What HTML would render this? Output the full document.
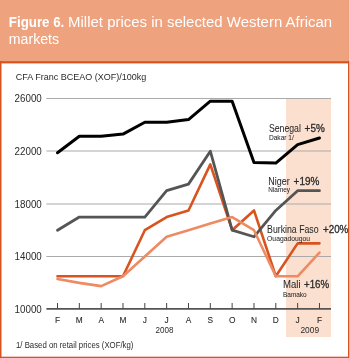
<!DOCTYPE html>
<html><head><meta charset="utf-8"><style>
html,body{margin:0;padding:0;background:#fff;}
body{width:350px;height:358px;overflow:hidden;position:relative;}
svg{position:absolute;left:0;top:0;display:block;will-change:transform;}
text{font-family:"Liberation Sans",sans-serif;fill:#2a2a2a;}
g.lab text{stroke:#2a2a2a;stroke-width:0.05px;}
text.w{fill:#fff;stroke:none;}
</style></head><body>
<svg width="350" height="358" viewBox="0 0 350 358">
<rect x="0" y="0" width="350" height="358" fill="#fff"/>
<rect x="0" y="0" width="350" height="61" fill="#EFA27E"/>
<text x="8.8" y="27.1" font-size="14" font-weight="bold" class="w" textLength="55.5" lengthAdjust="spacingAndGlyphs">Figure 6.</text>
<text x="68.1" y="27.1" font-size="14" class="w" textLength="264" lengthAdjust="spacingAndGlyphs">Millet prices in selected Western African</text>
<text x="8.8" y="44.1" font-size="14" class="w" textLength="50.3" lengthAdjust="spacingAndGlyphs">markets</text>

<rect x="286" y="98" width="45" height="239" fill="#FBE0D0"/>
<text x="15.7" y="79.8" font-size="9.3" textLength="130.6" lengthAdjust="spacingAndGlyphs">CFA Franc BCEAO (XOF)/100kg</text>

<g stroke="#AAAAAA" stroke-width="1">
<line x1="46.4" y1="98.5" x2="331" y2="98.5"/>
<line x1="46.4" y1="151" x2="331" y2="151"/>
<line x1="46.4" y1="204" x2="331" y2="204"/>
<line x1="46.4" y1="256.5" x2="331" y2="256.5"/>
</g>
<g font-size="10" text-anchor="start">
<text x="14.6" y="102" textLength="27.2" lengthAdjust="spacingAndGlyphs">26000</text>
<text x="14.6" y="154.7" textLength="27.2" lengthAdjust="spacingAndGlyphs">22000</text>
<text x="14.6" y="207.9" textLength="27.2" lengthAdjust="spacingAndGlyphs">18000</text>
<text x="14.6" y="260.2" textLength="27.2" lengthAdjust="spacingAndGlyphs">14000</text>
<text x="14.6" y="312.6" textLength="27.2" lengthAdjust="spacingAndGlyphs">10000</text>
</g>
<g fill="none" stroke-linejoin="round" stroke-linecap="round">
<polyline points="57.50,276.28 79.33,276.28 101.16,276.28 122.99,276.28 144.82,230.20 166.65,217.03 188.48,210.45 210.31,164.36 232.14,230.20 253.97,210.45 275.80,276.28 297.63,243.37 319.46,243.37" stroke="#D9531E" stroke-width="2.6"/>
<polyline points="57.50,230.20 79.33,217.03 101.16,217.03 122.99,217.03 144.82,217.03 166.65,190.70 188.48,184.11 210.31,151.20 232.14,230.20 253.97,236.78 275.80,210.45 297.63,190.70 319.46,190.70" stroke="#555555" stroke-width="2.8"/>
<polyline points="57.50,278.92 79.33,282.87 101.16,286.16 122.99,276.28 144.82,256.53 166.65,236.78 188.48,230.20 210.31,223.61 232.14,217.03 253.97,230.20 275.80,276.28 297.63,276.28 319.46,252.58" stroke="#EE8B62" stroke-width="2.6"/>
<polyline points="57.50,152.78 79.33,136.32 101.16,136.32 122.99,134.08 144.82,122.23 166.65,122.23 188.48,119.60 210.31,101.16 232.14,101.16 253.97,162.39 275.80,163.05 297.63,144.61 319.46,138.03" stroke="#000" stroke-width="3"/>
</g>
<line x1="46.4" y1="308.8" x2="331" y2="308.8" stroke="#555" stroke-width="1.8"/>
<line x1="57.50" y1="303" x2="57.50" y2="309" stroke="#444" stroke-width="1"/><line x1="79.33" y1="303" x2="79.33" y2="309" stroke="#444" stroke-width="1"/><line x1="101.16" y1="303" x2="101.16" y2="309" stroke="#444" stroke-width="1"/><line x1="122.99" y1="303" x2="122.99" y2="309" stroke="#444" stroke-width="1"/><line x1="144.82" y1="303" x2="144.82" y2="309" stroke="#444" stroke-width="1"/><line x1="166.65" y1="303" x2="166.65" y2="309" stroke="#444" stroke-width="1"/><line x1="188.48" y1="303" x2="188.48" y2="309" stroke="#444" stroke-width="1"/><line x1="210.31" y1="303" x2="210.31" y2="309" stroke="#444" stroke-width="1"/><line x1="232.14" y1="303" x2="232.14" y2="309" stroke="#444" stroke-width="1"/><line x1="253.97" y1="303" x2="253.97" y2="309" stroke="#444" stroke-width="1"/><line x1="275.80" y1="303" x2="275.80" y2="309" stroke="#444" stroke-width="1"/><line x1="297.63" y1="303" x2="297.63" y2="309" stroke="#444" stroke-width="1"/><line x1="319.46" y1="303" x2="319.46" y2="309" stroke="#444" stroke-width="1"/>
<g style="stroke:#2a2a2a;stroke-width:0.1px"><text x="57.50" y="322.5" font-size="9.8" text-anchor="middle" textLength="5.09" lengthAdjust="spacingAndGlyphs">F</text>
<text x="79.33" y="322.5" font-size="9.8" text-anchor="middle" textLength="6.94" lengthAdjust="spacingAndGlyphs">M</text>
<text x="101.16" y="322.5" font-size="9.8" text-anchor="middle" textLength="5.56" lengthAdjust="spacingAndGlyphs">A</text>
<text x="122.99" y="322.5" font-size="9.8" text-anchor="middle" textLength="6.94" lengthAdjust="spacingAndGlyphs">M</text>
<text x="144.82" y="322.5" font-size="9.8" text-anchor="middle" textLength="4.17" lengthAdjust="spacingAndGlyphs">J</text>
<text x="166.65" y="322.5" font-size="9.8" text-anchor="middle" textLength="4.17" lengthAdjust="spacingAndGlyphs">J</text>
<text x="188.48" y="322.5" font-size="9.8" text-anchor="middle" textLength="5.56" lengthAdjust="spacingAndGlyphs">A</text>
<text x="210.31" y="322.5" font-size="9.8" text-anchor="middle" textLength="5.56" lengthAdjust="spacingAndGlyphs">S</text>
<text x="232.14" y="322.5" font-size="9.8" text-anchor="middle" textLength="6.48" lengthAdjust="spacingAndGlyphs">O</text>
<text x="253.97" y="322.5" font-size="9.8" text-anchor="middle" textLength="6.01" lengthAdjust="spacingAndGlyphs">N</text>
<text x="275.80" y="322.5" font-size="9.8" text-anchor="middle" textLength="6.01" lengthAdjust="spacingAndGlyphs">D</text>
<text x="297.63" y="322.5" font-size="9.8" text-anchor="middle" textLength="4.17" lengthAdjust="spacingAndGlyphs">J</text>
<text x="319.46" y="322.5" font-size="9.8" text-anchor="middle" textLength="5.09" lengthAdjust="spacingAndGlyphs">F</text>
</g>
<text x="164.6" y="332.9" font-size="9.6" text-anchor="middle" textLength="18" lengthAdjust="spacingAndGlyphs">2008</text>
<text x="309.8" y="332.9" font-size="9.6" text-anchor="middle" textLength="18.7" lengthAdjust="spacingAndGlyphs">2009</text>

<g class="lab"><text x="268.9" y="131.7" font-size="10.4" textLength="32.0" lengthAdjust="spacingAndGlyphs">Senegal</text>
<text x="304.6" y="131.7" font-size="10.4" style="stroke:#2a2a2a;stroke-width:0.3px" textLength="20.1" lengthAdjust="spacingAndGlyphs">+5%</text>
<text x="268.9" y="140.0" font-size="6.6" textLength="25.0" lengthAdjust="spacingAndGlyphs">Dakar 1/</text>
<text x="268.3" y="184.7" font-size="10.4" textLength="21.4" lengthAdjust="spacingAndGlyphs">Niger</text>
<text x="293.6" y="184.7" font-size="10.4" style="stroke:#2a2a2a;stroke-width:0.3px" textLength="25.8" lengthAdjust="spacingAndGlyphs">+19%</text>
<text x="268.3" y="192.3" font-size="6.6" textLength="21.7" lengthAdjust="spacingAndGlyphs">Niamey</text>
<text x="267.1" y="233.1" font-size="10.4" textLength="51.5" lengthAdjust="spacingAndGlyphs">Burkina Faso</text>
<text x="323.0" y="233.3" font-size="10.4" style="stroke:#2a2a2a;stroke-width:0.3px" textLength="25.3" lengthAdjust="spacingAndGlyphs">+20%</text>
<text x="267.1" y="241.2" font-size="6.6" textLength="43.0" lengthAdjust="spacingAndGlyphs">Ouagadougou</text>
<text x="283.0" y="288.1" font-size="10.4" textLength="17.6" lengthAdjust="spacingAndGlyphs">Mali</text>
<text x="304.0" y="288.1" font-size="10.4" style="stroke:#2a2a2a;stroke-width:0.3px" textLength="25.2" lengthAdjust="spacingAndGlyphs">+16%</text>
<text x="283.0" y="296.5" font-size="6.6" textLength="23.7" lengthAdjust="spacingAndGlyphs">Bamako</text>
</g>
<text x="16" y="348.4" font-size="9.0" textLength="117.4" lengthAdjust="spacingAndGlyphs">1/ Based on retail prices (XOF/kg)</text>

<rect x="0" y="61.1" width="349" height="2.3" fill="#D9531E"/>
<rect x="0" y="61" width="1.5" height="297" fill="#D9531E"/>
<rect x="0" y="356.7" width="349" height="1.3" fill="#D9531E"/>
<rect x="348" y="0" width="1" height="61" fill="#EC9C76"/>
<rect x="348" y="61" width="1" height="297" fill="#D9531E"/>
<rect x="349" y="0" width="1" height="61" fill="#F7D4C0"/>
<rect x="349" y="61" width="1" height="297" fill="#F2B092"/>
</svg>
</body></html>
